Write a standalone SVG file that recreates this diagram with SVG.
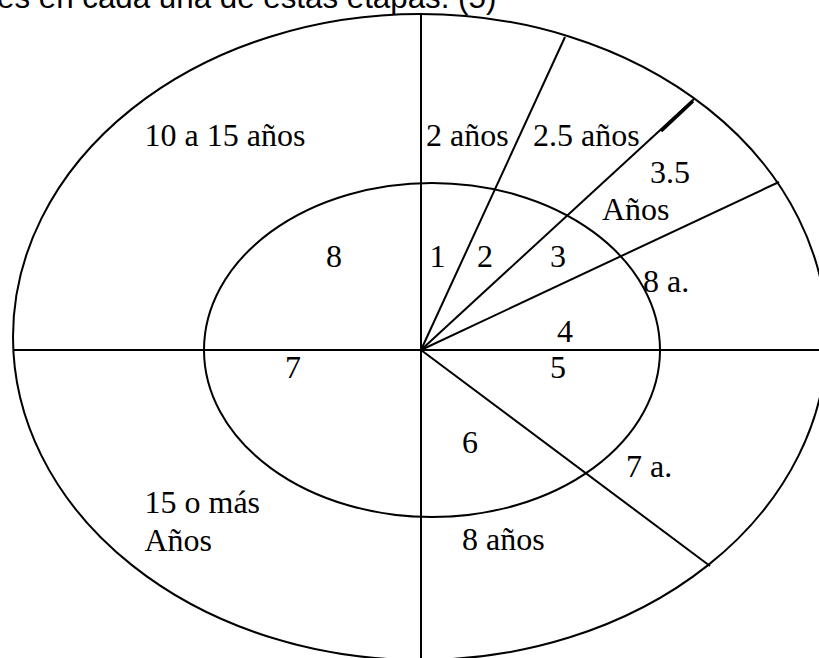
<svg xmlns="http://www.w3.org/2000/svg" width="819" height="658" viewBox="0 0 819 658">
<style>
.ln{stroke:#000;stroke-width:2;fill:none}
.t{font-family:"Liberation Serif","Times New Roman",serif;font-size:32px;fill:#000}
.h{font-family:"Liberation Sans",Arial,sans-serif;font-size:31.3px;fill:#000}
</style>
<rect width="819" height="658" fill="#fff"/>
<text class="h" x="-3" y="7.5">es en cada una de estas etapas. (5)</text>
<g id="ellipses">
<ellipse id="outer" class="ln" cx="420" cy="337" rx="407" ry="323"/>
<ellipse id="inner" class="ln" cx="432" cy="350" rx="228" ry="167"/>
</g>
<g id="connectors">
<line class="ln" x1="421" y1="14" x2="421" y2="658"/>
<line class="ln" x1="13" y1="350" x2="819" y2="350"/>
<line class="ln" x1="421" y1="350" x2="565" y2="37"/>
<line class="ln" x1="421" y1="350" x2="694" y2="99"/>
<line x1="661" y1="131" x2="693" y2="101" stroke="#000" stroke-width="3.5"/>
<line class="ln" x1="421" y1="350" x2="779" y2="182"/>
<line class="ln" x1="421" y1="350" x2="710" y2="566"/>
</g>
<g id="labels">
<text class="t" x="144.5" y="146">10 a 15 años</text>
<text class="t" x="426" y="146">2 años</text>
<text class="t" x="533" y="146">2.5 años</text>
<text class="t" x="650" y="183">3.5</text>
<text class="t" x="602" y="220">Años</text>
<text class="t" x="326" y="267">8</text>
<text class="t" x="429.5" y="267">1</text>
<text class="t" x="477" y="267">2</text>
<text class="t" x="550" y="267">3</text>
<text class="t" x="643" y="292">8 a.</text>
<text class="t" x="557" y="342">4</text>
<text class="t" x="550" y="378">5</text>
<text class="t" x="285" y="378">7</text>
<text class="t" x="462" y="453">6</text>
<text class="t" x="626" y="477">7 a.</text>
<text class="t" x="144.5" y="513">15 o más</text>
<text class="t" x="144.5" y="551">Años</text>
<text class="t" x="462" y="550">8 años</text>
</g>
</svg>
